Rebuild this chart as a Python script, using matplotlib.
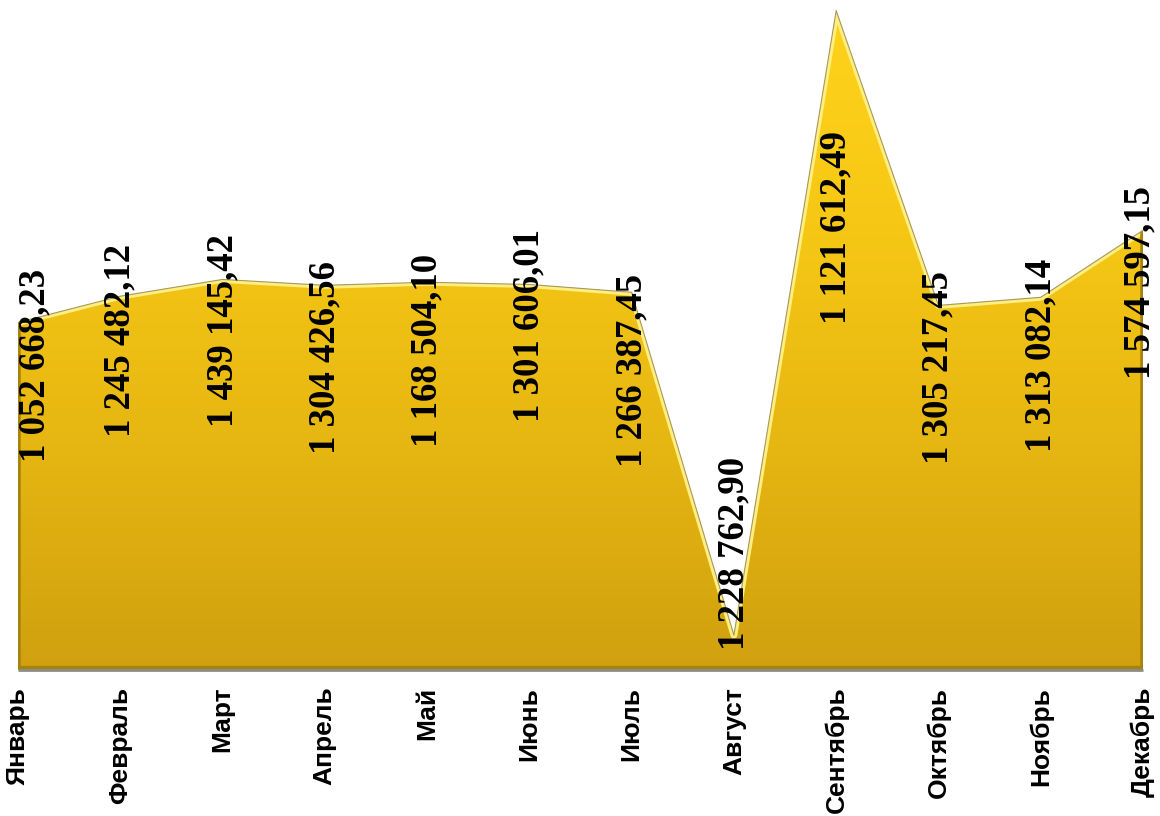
"""Monthly area chart with gold gradient fill and rotated value labels."""

from pathlib import Path

import matplotlib.pyplot as plt
import numpy as np
from matplotlib.colors import LinearSegmentedColormap
from matplotlib.patches import Polygon

months = ["Январь", "Февраль", "Март", "Апрель", "Май", "Июнь",
          "Июль", "Август", "Сентябрь", "Октябрь", "Ноябрь", "Декабрь"]

# heights of the area as drawn
values = [1245000, 1339000, 1399000, 1378000, 1389000, 1381000,
          1353000, 125000, 2362000, 1306000, 1335000, 1575000]

# texts of the data labels as printed on the chart
value_labels = ["1 052 668,23", "1 245 482,12", "1 439 145,42", "1 304 426,56",
                "1 168 504,10", "1 301 606,01", "1 266 387,45", "1 228 762,90",
                "1 121 612,49", "1 305 217,45", "1 313 082,14", "1 574 597,15"]

# label placement relative to each point, in pixels (dx, dy)
label_offsets = [(17, -43), (0, -44), (0, -51), (0, -72), (0, -68), (0, -41),
                 (0, -78), (0, 82), (0, -217), (0, -62), (0, -58), (-3, -52)]

YMAX = 2400000


def main():
    out_path = Path.cwd() / "out.png"

    fig = plt.figure(figsize=(11.6, 8.16), dpi=100)
    ax = fig.add_axes([18 / 1160, 146 / 816, 1125 / 1160, 670 / 816])
    x = np.arange(len(months))

    # area polygon with gradient fill
    verts = [(x[0], 0)] + list(zip(x, values)) + [(x[-1], 0)]
    poly = Polygon(verts, closed=True, facecolor="none", edgecolor="none")
    ax.add_patch(poly)
    cmap = LinearSegmentedColormap.from_list(
        "gold", ["#D0A00F", "#E6B612", "#F6C815", "#FFD31C"])
    grad = np.linspace(0, 1, 256).reshape(-1, 1)
    img = ax.imshow(grad, cmap=cmap, origin="lower", aspect="auto",
                    extent=[x[0], x[-1], 0, YMAX], zorder=1)
    img.set_clip_path(poly)

    # bevel highlight along top edge, dark band at bottom and left
    hl, = ax.plot(x, values, color="#FFEE80", lw=5, zorder=2,
                  solid_joinstyle="round")
    hl.set_clip_path(poly)
    bot, = ax.plot([x[0], x[-1]], [0, 0], color="#A8830C", lw=6, zorder=2)
    bot.set_clip_path(poly)
    for xe in (x[0], x[-1]):
        side, = ax.plot([xe, xe], [0, YMAX], color="#A8830C", lw=4, zorder=2)
        side.set_clip_path(poly)
    ax.plot(x, values, color="#A89860", lw=0.8, zorder=3)
    ax.plot([x[0], x[-1]], [0, 0], color="#8C8C8C", lw=2, zorder=3,
            clip_on=False, solid_capstyle="butt")

    for xi, v, txt, (dx, dy) in zip(x, values, value_labels, label_offsets):
        ax.annotate(txt, (xi, v), xytext=(dx, dy), textcoords="offset pixels",
                    rotation=90, ha="center", va="center",
                    fontfamily="Liberation Serif", fontweight="bold",
                    fontsize=26.5, color="black", zorder=4,
                    annotation_clip=False)

    ax.set_xlim(x[0], x[-1])
    ax.set_ylim(0, YMAX)
    ax.set_xticks(x)
    ax.set_xticklabels(months, rotation=90, fontfamily="Liberation Sans",
                       fontweight="bold", fontsize=19)
    ax.tick_params(axis="x", length=0, pad=12)
    ax.set_yticks([])
    for s in ax.spines.values():
        s.set_visible(False)

    fig.savefig(out_path, dpi=100)
    plt.close(fig)
    print(f"Generated: {out_path}")


if __name__ == "__main__":
    main()
